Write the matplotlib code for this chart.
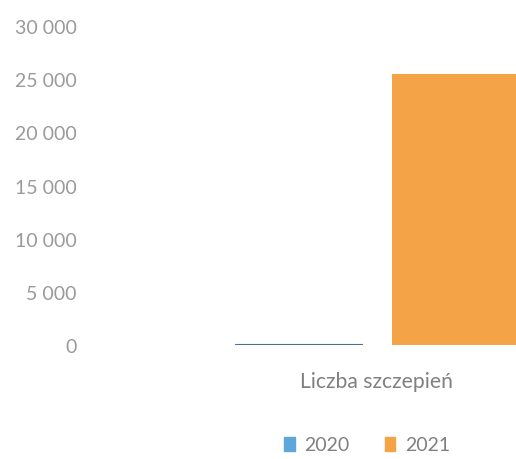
import matplotlib.pyplot as plt
from matplotlib.patches import Patch

plt.rcParams['font.family'] = ['Lato', 'DejaVu Sans']

categories = ["Liczba szczepień"]
series_names = ["2020", "2021"]
values_2020 = [110]
values_2021 = [25500]
yticks = [0, 5000, 10000, 15000, 20000, 25000, 30000]
ytick_labels = ["0", "5 000", "10 000", "15 000", "20 000", "25 000", "30 000"]

C2020 = "#5fa6db"
C2021 = "#f5a347"
GREY = "#9a9a9a"

fig = plt.figure(figsize=(5.16, 4.60), dpi=100)
# plot area runs past the right edge, like the cropped scan
ax = fig.add_axes([0.184, 0.2478, 1.093, 0.6935])

width = 0.225
off = 0.139
ax.bar([-off], values_2020, width=width, color=C2020, edgecolor="#4d6f90",
       linewidth=0.8)
ax.bar([off], values_2021, width=width, color=C2021)

ax.set_xlim(-0.5, 0.5)
ax.set_ylim(0, 30000)
ax.set_yticks(yticks)
ax.set_yticklabels(ytick_labels, fontsize=14, color=GREY)
ax.set_xticks([0])
ax.set_xticklabels(categories, fontsize=15.2, color="#808080")
ax.tick_params(axis="y", length=0, pad=13)
ax.tick_params(axis="x", length=0, pad=19)
for s in ax.spines.values():
    s.set_visible(False)

handles = [Patch(color=C2020), Patch(color=C2021)]
fig.legend(handles, series_names, loc="center", ncol=2,
           bbox_to_anchor=(367 / 516, 1 - 446 / 460), frameon=False,
           fontsize=14, labelcolor="#808080", handlelength=0.55,
           handleheight=0.75, handletextpad=0.5, columnspacing=1.8)

fig.savefig("out.png", dpi=100)
